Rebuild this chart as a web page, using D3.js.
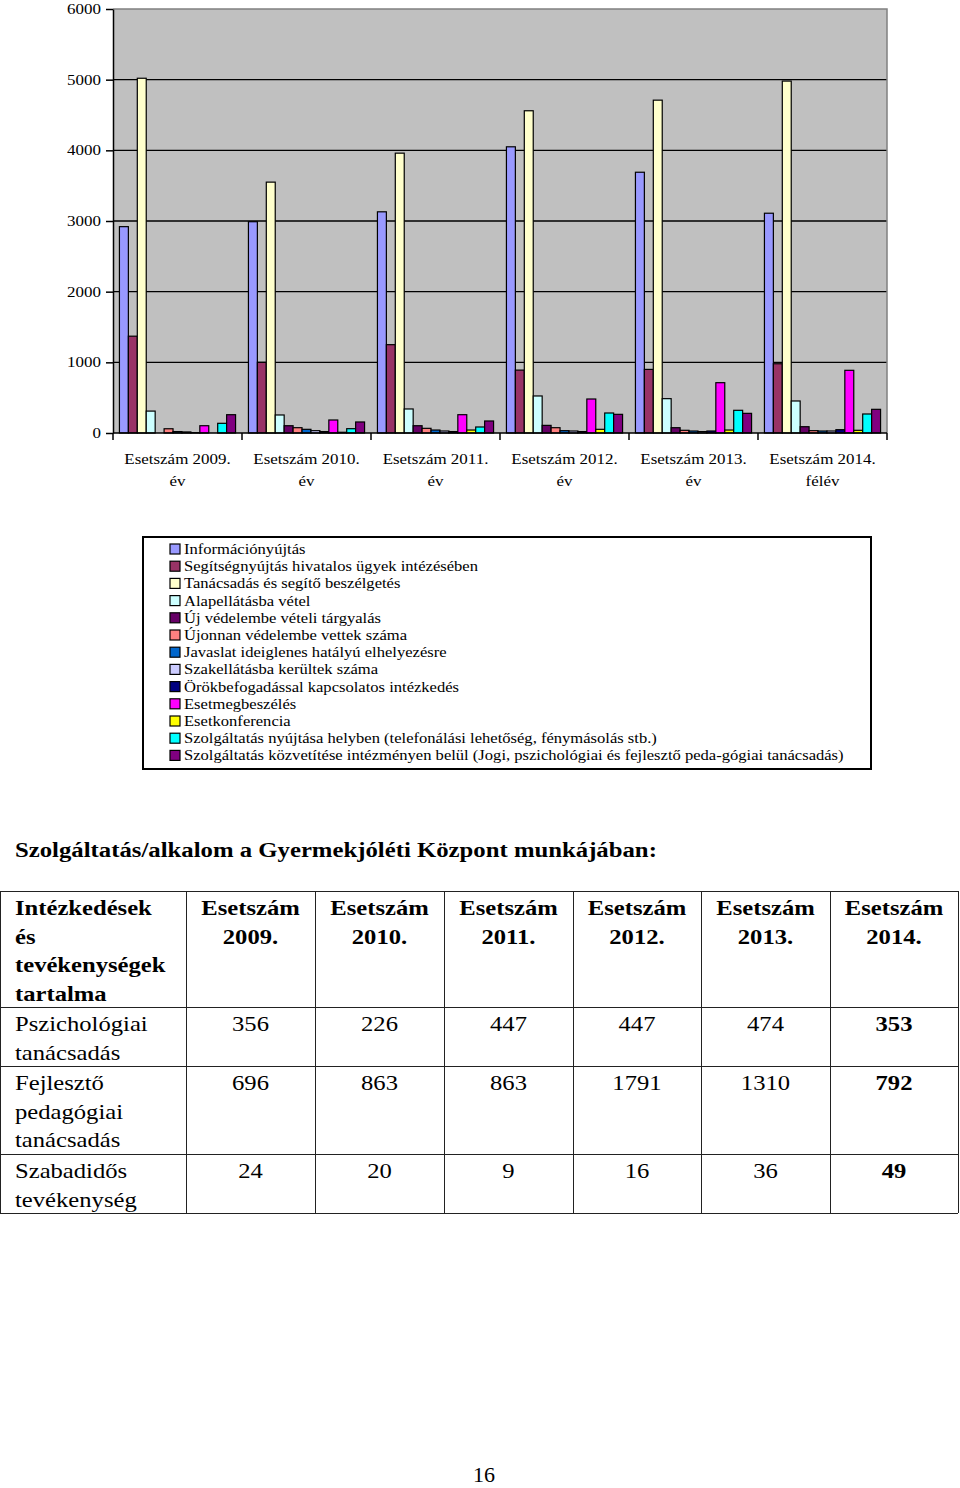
<!DOCTYPE html>
<html>
<head>
<meta charset="utf-8">
<script src="https://cdn.jsdelivr.net/npm/d3@7"></script>
<style>
  html, body { margin: 0; padding: 0; background: #fff; }
  svg { display: block; font-family: "Liberation Serif", "Times New Roman", serif; }
</style>
</head>
<body>
<svg id="page" width="960" height="1488"></svg>
<script>
// ---------- DATA ----------
const categories = ["Esetszám 2009.", "Esetszám 2010.", "Esetszám 2011.", "Esetszám 2012.", "Esetszám 2013.", "Esetszám 2014."];
const categorySub = ["év", "év", "év", "év", "év", "félév"];

const seriesNames = [
  "Információnyújtás",
  "Segítségnyújtás hivatalos ügyek intézésében",
  "Tanácsadás és segítő beszélgetés",
  "Alapellátásba vétel",
  "Új védelembe vételi tárgyalás",
  "Újonnan védelembe vettek száma",
  "Javaslat ideiglenes hatályú elhelyezésre",
  "Szakellátásba kerültek száma",
  "Örökbefogadással kapcsolatos intézkedés",
  "Esetmegbeszélés",
  "Esetkonferencia",
  "Szolgáltatás nyújtása helyben (telefonálási lehetőség, fénymásolás stb.)",
  "Szolgáltatás közvetítése intézményen belül (Jogi, pszichológiai és fejlesztő peda-gógiai tanácsadás)"
];
const seriesColors = ["#9999FF", "#993366", "#FFFFCC", "#CCFFFF", "#660066", "#FF8080", "#0066CC",
                      "#CCCCFF", "#000080", "#FF00FF", "#FFFF00", "#00FFFF", "#800080"];

const informacio     = [2920, 2990, 3130, 4050, 3690, 3110];
const segitseg       = [1370, 1000, 1250,  890,  900,  980];
const tanacsadas     = [5020, 3550, 3960, 4560, 4710, 4980];
const alapellatas    = [ 310,  255,  340,  524,  486,  453];
const ujVedelem      = [   0,  103,  103,  108,   75,   89];
const ujonnan        = [  60,   75,   66,   75,   38,   33];
const javaslat       = [  20,   52,   42,   33,   28,   28];
const szakellatas    = [  15,   33,   28,   28,   20,   28];
const orokbefogadas  = [   5,   20,   20,   20,   28,   47];
const esetmegbeszeles= [ 103,  184,  259,  481,  712,  887];
const esetkonferencia= [   0,   10,   42,   52,   42,   38];
const szolgHelyben   = [ 137,   61,   85,  283,  321,  269];
const szolgKozvetit  = [ 259,  156,  170,  264,  278,  335];

const seriesValues = [informacio, segitseg, tanacsadas, alapellatas, ujVedelem, ujonnan, javaslat,
                      szakellatas, orokbefogadas, esetmegbeszeles, esetkonferencia, szolgHelyben, szolgKozvetit];

const yTicks = [0, 1000, 2000, 3000, 4000, 5000, 6000];

const pageTitle = "Szolgáltatás/alkalom a Gyermekjóléti Központ munkájában:";
const tableHeaderFirst = ["Intézkedések", "és", "tevékenységek", "tartalma"];
const tableYears = ["2009.", "2010.", "2011.", "2012.", "2013.", "2014."];
const tableRowLabels = [["Pszichológiai", "tanácsadás"], ["Fejlesztő", "pedagógiai", "tanácsadás"], ["Szabadidős", "tevékenység"]];
const psziValues = [356, 226, 447, 447, 474, 353];
const fejlValues = [696, 863, 863, 1791, 1310, 792];
const szabValues = [24, 20, 9, 16, 36, 49];
const tableValues = [psziValues, fejlValues, szabValues];
const pageNumber = "16";

// ---------- HELPERS ----------
const svg = d3.select("#page");
// horizontally stretched text (the reference glyphs are wider than tall)
function stext(parent, x, y, str, opts) {
  const o = Object.assign({ size: 15, sx: 1.12, anchor: "start", weight: "normal" }, opts || {});
  return parent.append("text")
    .attr("transform", `translate(${x},${y}) scale(${o.sx},1)`)
    .attr("text-anchor", o.anchor)
    .attr("font-size", o.size)
    .attr("font-weight", o.weight)
    .attr("font-family", "Liberation Serif, Times New Roman, serif")
    .attr("fill", "#000")
    .text(str);
}

// ---------- CHART ----------
const plot = { left: 113, right: 887, top: 9, bottom: 433 };

const x0 = d3.scaleBand().domain(categories).range([plot.left, plot.right]).paddingInner(0).paddingOuter(0);
const x1 = d3.scaleBand().domain(d3.range(seriesNames.length)).range([0, x0.bandwidth()]).paddingInner(0).paddingOuter(0.72);
const y = d3.scaleLinear().domain([0, 6000]).range([plot.bottom, plot.top]);

svg.append("rect").attr("x", plot.left).attr("y", plot.top)
  .attr("width", plot.right - plot.left).attr("height", plot.bottom - plot.top)
  .attr("fill", "#C0C0C0");

svg.append("g").selectAll("line").data(yTicks.filter(t => t > 0 && t < 6000)).join("line")
  .attr("x1", plot.left).attr("x2", plot.right)
  .attr("y1", d => y(d)).attr("y2", d => y(d))
  .attr("stroke", "#000").attr("stroke-width", 1.3);

svg.append("path")
  .attr("d", `M${plot.left},${plot.top}H${plot.right}V${plot.bottom}`)
  .attr("fill", "none").attr("stroke", "#808080").attr("stroke-width", 1.5);

const groups = svg.append("g").selectAll("g").data(categories).join("g")
  .attr("transform", d => `translate(${x0(d)},0)`);
groups.selectAll("rect").data((d, ci) => seriesValues.map((vals, si) => ({ si, v: vals[ci] }))).join("rect")
  .attr("x", d => x1(d.si))
  .attr("y", d => y(d.v))
  .attr("width", x1.bandwidth())
  .attr("height", d => y(0) - y(d.v))
  .attr("fill", d => seriesColors[d.si])
  .attr("stroke", "#000").attr("stroke-width", 1.2);

// y axis (ticks + domain via d3 axis, labels stretched)
const yAxis = d3.axisLeft(y).tickValues(yTicks).tickSize(7).tickSizeOuter(0).tickFormat("");
const yg = svg.append("g").attr("transform", `translate(${plot.left},0)`).call(yAxis);
yg.select(".domain").attr("stroke", "#000").attr("stroke-width", 1.5);
yg.selectAll(".tick line").attr("stroke", "#000").attr("stroke-width", 1.5);
const ylab = svg.append("g");
yTicks.forEach(t => stext(ylab, 101, y(t) + 5, d3.format("d")(t), { size: 15, sx: 1.13, anchor: "end" }));

// x axis
const boundaries = categories.map(c => x0(c)).concat([plot.right]);
svg.append("line").attr("x1", plot.left).attr("x2", plot.right).attr("y1", plot.bottom).attr("y2", plot.bottom)
  .attr("stroke", "#000").attr("stroke-width", 1.5);
svg.append("g").selectAll("line").data(boundaries).join("line")
  .attr("x1", d => d).attr("x2", d => d).attr("y1", plot.bottom).attr("y2", plot.bottom + 7)
  .attr("stroke", "#000").attr("stroke-width", 1.5);
const xlab = svg.append("g");
categories.forEach((c, i) => {
  const cx = x0(c) + x0.bandwidth() / 2;
  stext(xlab, cx, 464, c, { size: 15, sx: 1.13, anchor: "middle" });
  stext(xlab, cx, 486, categorySub[i], { size: 15, sx: 1.13, anchor: "middle" });
});

// legend
const leg = { x: 143, y: 537, w: 728, h: 232 };
svg.append("rect").attr("x", leg.x).attr("y", leg.y).attr("width", leg.w).attr("height", leg.h)
  .attr("fill", "#fff").attr("stroke", "#000").attr("stroke-width", 2);
const lg = svg.append("g");
seriesNames.forEach((n, i) => {
  const cy = 549 + i * 17.2;
  lg.append("rect").attr("x", 170).attr("y", cy - 5).attr("width", 10).attr("height", 10)
    .attr("fill", seriesColors[i]).attr("stroke", "#000").attr("stroke-width", 1.2);
  stext(lg, 184, cy + 5, n, { size: 15, sx: 1.105 });
});

// title
stext(svg, 15, 857, pageTitle, { size: 22, sx: 1.125, weight: "bold" });

// ---------- TABLE ----------
const colX = [0, 186, 315, 444, 573, 701, 830, 958];
const rowY = [891, 1007, 1066, 1154, 1213];
const tg = svg.append("g");
tg.selectAll("line.v").data(colX).join("line").attr("class", "v")
  .attr("x1", d => d + 0.5).attr("x2", d => d + 0.5).attr("y1", rowY[0]).attr("y2", rowY[rowY.length - 1])
  .attr("stroke", "#222").attr("stroke-width", 1);
tg.selectAll("line.h").data(rowY).join("line").attr("class", "h")
  .attr("x1", colX[0]).attr("x2", colX[colX.length - 1]).attr("y1", d => d + 0.5).attr("y2", d => d + 0.5)
  .attr("stroke", "#222").attr("stroke-width", 1);

const lh = 28.5;
const TS = 1.12;
tableHeaderFirst.forEach((t, i) => stext(tg, 15, 915 + i * lh, t, { size: 22, sx: TS, weight: "bold" }));
tableYears.forEach((yr, i) => {
  const cx = (colX[i + 1] + colX[i + 2]) / 2;
  stext(tg, cx, 915, "Esetszám", { size: 22, sx: TS, weight: "bold", anchor: "middle" });
  stext(tg, cx, 915 + lh, yr, { size: 22, sx: TS, weight: "bold", anchor: "middle" });
});
tableRowLabels.forEach((lines, r) => {
  const top = rowY[r + 1];
  lines.forEach((t, k) => stext(tg, 15, top + 24 + k * lh, t, { size: 22, sx: TS }));
  tableValues[r].forEach((v, c) => {
    const cx = (colX[c + 1] + colX[c + 2]) / 2;
    stext(tg, cx, top + 24, String(v), { size: 22, sx: TS, anchor: "middle", weight: c === 5 ? "bold" : "normal" });
  });
});

// page number
stext(svg, 484, 1482, pageNumber, { size: 20, sx: 1.1, anchor: "middle" });
</script>
</body>
</html>
